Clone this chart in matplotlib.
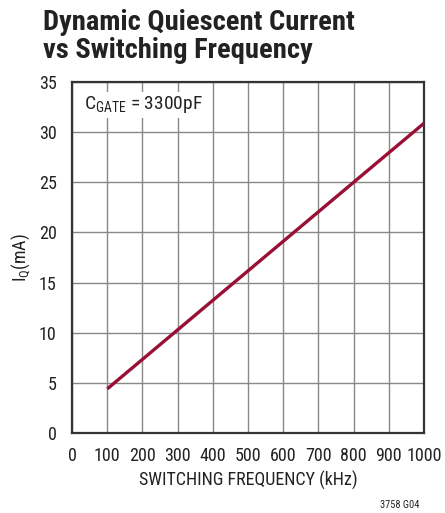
import matplotlib.pyplot as plt
from matplotlib import font_manager

# data
freq_khz = [100, 1000]
iq_ma = [4.4, 30.9]
x_ticks = [0, 100, 200, 300, 400, 500, 600, 700, 800, 900, 1000]
y_ticks = [0, 5, 10, 15, 20, 25, 30, 35]

names = {f.name for f in font_manager.fontManager.ttflist}
fam = 'Roboto Condensed' if 'Roboto Condensed' in names else 'Liberation Sans'
plt.rcParams['font.family'] = [fam, 'DejaVu Sans']
plt.rcParams['mathtext.fontset'] = 'custom'
plt.rcParams['mathtext.rm'] = fam

fig = plt.figure(figsize=(4.45, 5.13), dpi=100)
ax = fig.add_axes([0.162, 0.156, 0.791, 0.684])

ax.plot(freq_khz, iq_ma, color='#990f35', lw=2.4, solid_capstyle='butt', zorder=3)

ax.set_xlim(0, 1000)
ax.set_ylim(0, 35)
ax.set_xticks(x_ticks)
ax.set_yticks(y_ticks)
ax.tick_params(length=0, labelsize=13, colors='#222222')
ax.tick_params(axis='x', pad=10)
ax.tick_params(axis='y', pad=11)
ax.grid(True, color='#888888', lw=1.0)
for s in ax.spines.values():
    s.set_linewidth(1.6)
    s.set_color('#333333')

ax.set_xlabel('SWITCHING FREQUENCY (kHz)', fontsize=13, labelpad=4, color='#222222')
ax.set_ylabel(r'I$_\mathregular{Q}$(mA)', fontsize=13, labelpad=5, color='#222222')

ax.text(0.035, 0.935, r'C$_\mathregular{GATE}$ = 3300pF', transform=ax.transAxes,
        fontsize=14, va='center', ha='left', color='#222222',
        bbox=dict(facecolor='white', edgecolor='none', pad=1.5), zorder=4)

fig.text(0.097, 0.982, 'Dynamic Quiescent Current\nvs Switching Frequency',
         fontsize=20.5, fontweight='bold', va='top', ha='left',
         color='#222222', linespacing=1.05)
fig.text(0.942, 0.006, '3758 G04', fontsize=7.5, ha='right', va='bottom', color='#222222')

fig.savefig('out.png', dpi=100)
